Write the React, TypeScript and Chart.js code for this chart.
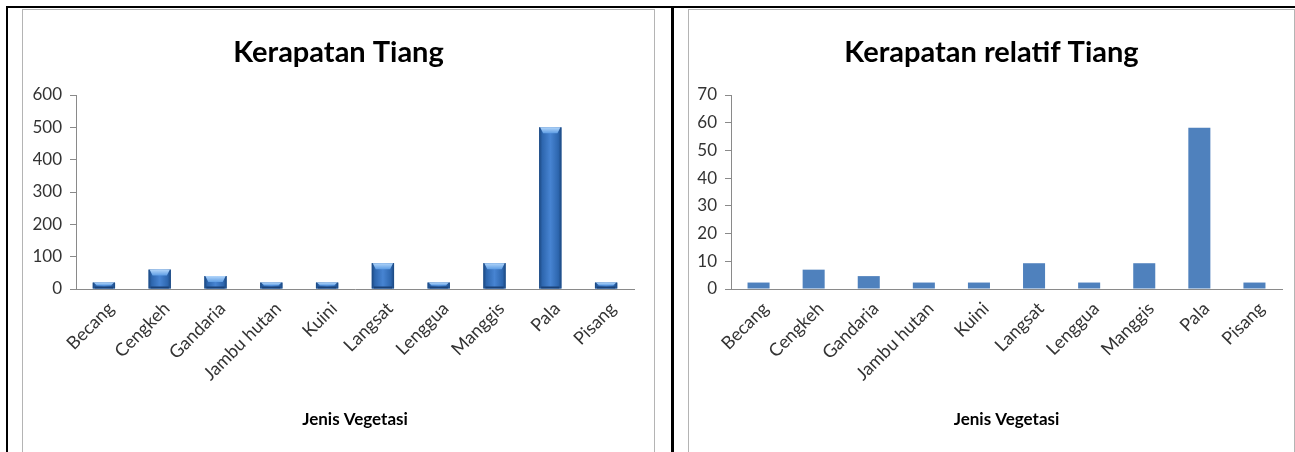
import React, { useEffect, useRef } from 'react';
import { Chart, registerables } from 'chart.js';

Chart.register(...registerables);

// ---- Data ----
const categories = ['Becang', 'Cengkeh', 'Gandaria', 'Jambu hutan', 'Kuini', 'Langsat', 'Lenggua', 'Manggis', 'Pala', 'Pisang'];
const kerapatanValues = [20, 60, 40, 20, 20, 80, 20, 80, 500, 20];
const kerapatanRelatifValues = [2.33, 6.98, 4.65, 2.33, 2.33, 9.3, 2.33, 9.3, 58.14, 2.33];
const kerapatanTicks = [0, 100, 200, 300, 400, 500, 600];
const relatifTicks = [0, 10, 20, 30, 40, 50, 60, 70];
const titleLeft = 'Kerapatan Tiang';
const titleRight = 'Kerapatan relatif Tiang';
const xAxisTitle = 'Jenis Vegetasi';

const FONT = 'Lato, "Open Sans", sans-serif';

const bevelPlugin = {
  id: 'bevel',
  afterDatasetsDraw(chart: any) {
    const ctx = chart.ctx;
    const meta = chart.getDatasetMeta(0);
    ctx.save();
    meta.data.forEach((bar: any) => {
      const { x, y, base, width } = bar.getProps(['x', 'y', 'base', 'width'], true);
      const l = x - width / 2;
      const r = x + width / 2;
      const h = base - y;
      const g = ctx.createLinearGradient(l, 0, r, 0);
      g.addColorStop(0, '#1b477f');
      g.addColorStop(0.14, '#2d66ae');
      g.addColorStop(0.5, '#4784d2');
      g.addColorStop(0.86, '#2d66ae');
      g.addColorStop(1, '#1b477f');
      ctx.fillStyle = g;
      ctx.fillRect(l, y, width, h);
      const cap = Math.min(6, h / 2);
      const cg = ctx.createLinearGradient(0, y, 0, y + cap);
      cg.addColorStop(0, '#b3d6fa');
      cg.addColorStop(1, '#5e9de4');
      ctx.fillStyle = cg;
      ctx.beginPath();
      ctx.moveTo(l + 1, y);
      ctx.lineTo(r - 1, y);
      ctx.lineTo(r - 4, y + cap);
      ctx.lineTo(l + 4, y + cap);
      ctx.closePath();
      ctx.fill();
      ctx.fillStyle = '#1a4278';
      ctx.fillRect(l + 2, base - 2, width - 4, 2);
    });
    ctx.restore();
  },
};

function makeConfig(
  title: string,
  values: number[],
  ticks: number[],
  yWidth: number,
  sidePad: number,
  rightGap: number,
  bevel: boolean
): any {
  return {
    type: 'bar',
    data: {
      labels: categories,
      datasets: [
        {
          data: values,
          backgroundColor: '#4f81bd',
          borderWidth: 0,
          barPercentage: 0.4,
          categoryPercentage: 1,
        },
      ],
    },
    plugins: bevel ? [bevelPlugin] : [],
    options: {
      responsive: false,
      animation: false,
      layout: { padding: { left: sidePad, right: sidePad, top: 0, bottom: 23 } },
      plugins: {
        legend: { display: false },
        tooltip: { enabled: false },
        title: {
          display: true,
          text: title,
          color: '#000',
          font: { family: FONT, size: 29, weight: 'bold', lineHeight: 1.2 },
          padding: { top: 25, bottom: 25.2 },
        },
      },
      scales: {
        x: {
          grid: { display: false, drawOnChartArea: false, drawTicks: false },
          border: { display: true, color: '#8a8a8a', width: 1 },
          ticks: {
            minRotation: 45,
            maxRotation: 45,
            autoSkip: false,
            padding: 9,
            labelOffset: 7,
            color: '#333',
            font: { family: FONT, size: 18 },
          },
          title: {
            display: true,
            text: xAxisTitle,
            color: '#000',
            font: { family: FONT, size: 17, weight: 'bold', lineHeight: 1.2 },
            padding: { top: 0, bottom: 0 },
          },
          afterFit: (s: any) => {
            s.height = 141;
          },
        },
        y: {
          min: ticks[0],
          max: ticks[ticks.length - 1],
          afterBuildTicks: (s: any) => {
            s.ticks = ticks.map((v) => ({ value: v }));
          },
          grid: { display: true, drawOnChartArea: false, drawTicks: true, tickLength: 6, color: '#8a8a8a' },
          border: { display: true, color: '#8a8a8a', width: 1 },
          ticks: {
            padding: 8,
            color: '#333',
            font: { family: FONT, size: 17 },
          },
          afterFit: (s: any) => {
            s.width = yWidth;
          },
        },
        gap: {
          type: 'linear',
          position: 'right',
          display: true,
          grid: { display: false, drawOnChartArea: false, drawTicks: false },
          border: { display: false },
          ticks: { display: false },
          afterFit: (s: any) => {
            s.width = rightGap;
          },
        },
      },
    },
  };
}

function ChartCanvas({ config, width, height }: { config: any; width: number; height: number }) {
  const ref = useRef<HTMLCanvasElement | null>(null);
  useEffect(() => {
    if (!ref.current) return;
    const chart = new Chart(ref.current, config);
    return () => chart.destroy();
  }, [config]);
  return <canvas ref={ref} width={width} height={height} style={{ display: 'block', width, height }} />;
}

// left: chart area x 53..611 in a 631px canvas; right: 42..593 in a 605px canvas
const leftConfig = makeConfig(titleLeft, kerapatanValues, kerapatanTicks, 43, 10, 10, true);
const rightConfig = makeConfig(titleRight, kerapatanRelatifValues, relatifTicks, 36, 6, 6, false);

export default function App() {
  return (
    <div
      style={{
        position: 'fixed',
        left: 0,
        top: 0,
        width: 1295,
        height: 452,
        background: '#fff',
        overflow: 'hidden',
      }}
    >
      <div style={{ position: 'absolute', left: 6, top: 6, width: 1289, height: 2, background: '#000' }} />
      <div style={{ position: 'absolute', left: 6, top: 6, width: 2, height: 446, background: '#000' }} />
      <div style={{ position: 'absolute', left: 671, top: 6, width: 3, height: 446, background: '#000' }} />
      <div
        style={{
          position: 'absolute',
          left: 22,
          top: 9,
          width: 633,
          height: 460,
          boxSizing: 'border-box',
          border: '1px solid #b4b4b4',
          background: '#fff',
        }}
      >
        <ChartCanvas config={leftConfig} width={631} height={443} />
      </div>
      <div
        style={{
          position: 'absolute',
          left: 688,
          top: 9,
          width: 607,
          height: 460,
          boxSizing: 'border-box',
          border: '1px solid #b4b4b4',
          background: '#fff',
        }}
      >
        <ChartCanvas config={rightConfig} width={605} height={443} />
      </div>
    </div>
  );
}
